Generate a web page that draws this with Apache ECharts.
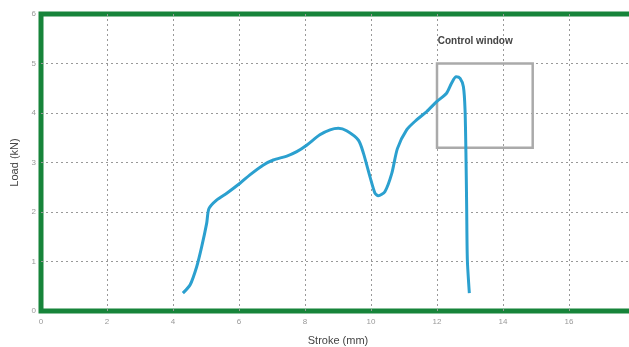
<!DOCTYPE html>
<html><head><meta charset="utf-8">
<script src="https://cdn.jsdelivr.net/npm/echarts@6/dist/echarts.min.js"></script>
<style>html,body{margin:0;padding:0;background:#fff}#c{width:629px;height:347px}</style>
</head><body><div id="c"></div>
<script>
const strokeMm = [4.30,4.52,4.72,4.87,5.02,5.09,5.32,5.63,6.03,6.33,6.74,7.04,7.45,7.75,8.05,8.45,8.76,9.01,9.26,9.62,9.77,9.97,10.12,10.22,10.42,10.63,10.80,11.08,11.38,11.69,11.99,12.29,12.44,12.58,12.70,12.80,12.85,12.88,12.90,12.92,12.98];
const loadKN   = [0.36,0.53,0.90,1.30,1.77,2.07,2.24,2.38,2.58,2.75,2.95,3.05,3.13,3.22,3.35,3.56,3.66,3.69,3.64,3.45,3.19,2.71,2.38,2.33,2.41,2.78,3.28,3.66,3.86,4.03,4.23,4.40,4.60,4.73,4.70,4.53,4.06,3.05,2.04,1.03,0.36];
const windowFrom = [12, 5.0];
const windowTo = [14.9, 3.3];
const windowLabel = 'Control window';
const xName = 'Stroke (mm)';
const yName = 'Load (kN)';

const font = '"Liberation Sans Narrow", "Liberation Sans", Arial, sans-serif';
const chart = echarts.init(document.getElementById('c'));
chart.setOption({
  animation: false,
  grid: {left: 41, top: 14, width: 594, height: 297, show: true, outerBoundsMode: 'none',
         containLabel: false,
         backgroundColor: '#fff', borderColor: '#17843a', borderWidth: 5},
  xAxis: {type: 'value', min: 0, max: 18, interval: 2,
    name: xName, nameLocation: 'middle', nameGap: 24,
    nameTextStyle: {fontSize: 11, color: '#444', fontFamily: font},
    axisLine: {show: false}, axisTick: {show: false},
    axisLabel: {fontSize: 8, color: '#999', margin: 7, fontFamily: font},
    splitLine: {show: true, showMinLine: false, showMaxLine: false,
                lineStyle: {color: '#999', type: [2, 3], width: 1}}},
  yAxis: {type: 'value', min: 0, max: 6, interval: 1,
    name: yName, nameLocation: 'middle', nameGap: 16,
    nameTextStyle: {fontSize: 11, color: '#444', fontFamily: font},
    axisLine: {show: false}, axisTick: {show: false},
    axisLabel: {fontSize: 8, color: '#999', margin: 5, fontFamily: font},
    splitLine: {show: true, showMinLine: false, showMaxLine: false,
                lineStyle: {color: '#999', type: [2, 3], width: 1}}},
  series: [{
    type: 'line', smooth: 0.25, symbol: 'none',
    data: strokeMm.map((x, i) => [x, loadKN[i]]),
    lineStyle: {color: '#2ba0cf', width: 3},
    markArea: {silent: true,
      itemStyle: {color: 'rgba(0,0,0,0)', borderColor: '#aaa', borderWidth: 2.5},
      label: {show: true, position: [2, -21], align: 'left', verticalAlign: 'middle',
              formatter: windowLabel, fontSize: 10, fontWeight: 'bold', color: '#444', fontFamily: font},
      data: [[{coord: windowFrom}, {coord: windowTo}]]}
  }]
});
</script></body></html>
